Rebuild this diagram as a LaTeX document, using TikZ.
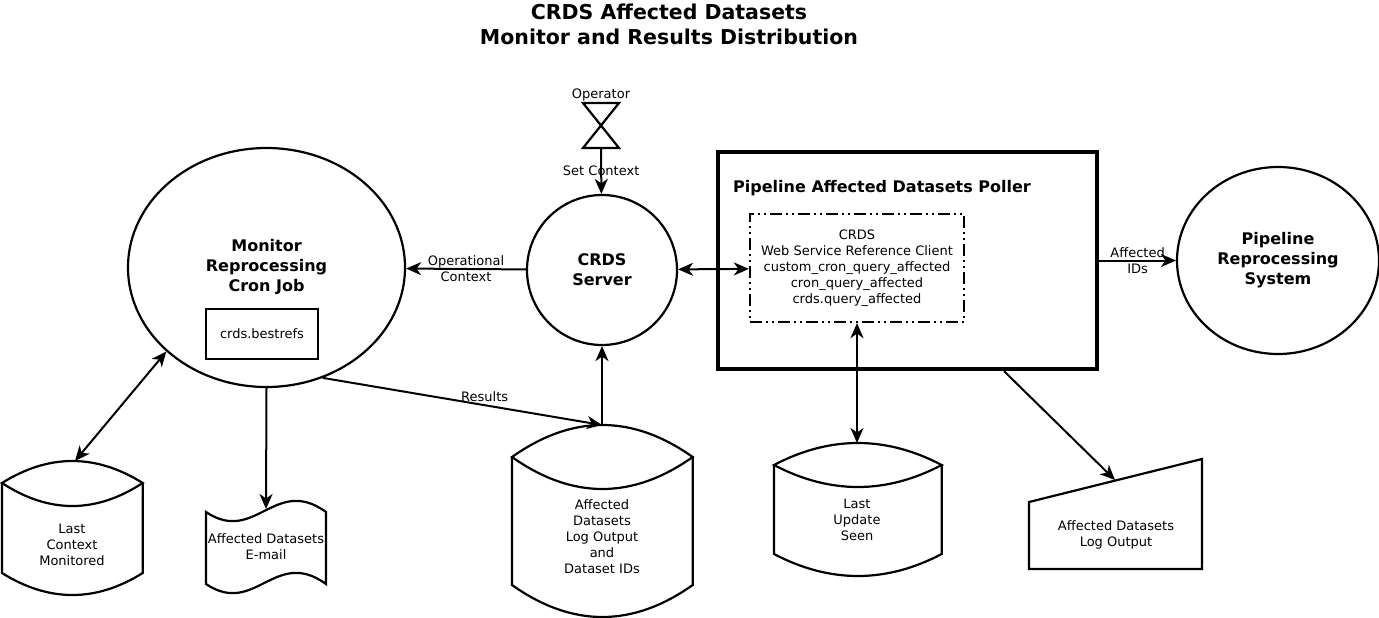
\documentclass[tikz,border=0pt]{standalone}
\usepackage{fontspec}
\setmainfont{DejaVu Sans}
\usetikzlibrary{arrows.meta,shapes.geometric,calc}
\newcommand\drawcyl[7]{%
  \pgfmathsetmacro\cylw{(#2-#1)/3}%
  \pgfmathsetmacro\cyla{#4+(#3-#4)/0.75}%
  \pgfmathsetmacro\cylb{#4+(#5-#4)/0.75}%
  \pgfmathsetmacro\cylc{#6+(#7-#6)/0.75}%
  \draw[shp] (#1,#4) .. controls ({#1+\cylw},\cyla) and ({#2-\cylw},\cyla) .. (#2,#4)
     .. controls ({#2-\cylw},\cylb) and ({#1+\cylw},\cylb) .. (#1,#4) -- cycle;
  \draw[shp] (#1,#4) -- (#1,#6) .. controls ({#1+\cylw},\cylc) and ({#2-\cylw},\cylc) .. (#2,#6) -- (#2,#4);
}
\begin{document}
\begin{tikzpicture}[x=1pt,y=-1pt,
  shp/.style={draw, line width=2.2pt},
  tipst/.tip={Stealth[length=15pt,width=13pt,inset=4.5pt]},
  conn/.style={line width=2pt,-tipst},
  dconn/.style={line width=2pt,tipst-tipst},
  lbl/.style={font=\fontsize{13}{16}\selectfont, align=center, inner sep=0pt},
  bld/.style={font=\fontsize{16}{20}\selectfont\bfseries, align=center, inner sep=0pt}]
\useasboundingbox (0,0) rectangle (1379,618);

% title
\node[font=\fontsize{20.5}{25}\selectfont\bfseries, align=center, inner sep=0pt] (title) at (669,24.5)
  {CRDS Affected Datasets\\Monitor and Results Distribution};

% monitor cron job
\node[ellipse, shp, minimum width=277pt, minimum height=239pt, inner sep=0pt, bld] (mon) at (266.5,267.5)
  {Monitor\\Reprocessing\\Cron Job};
\node[shp, minimum width=112pt, minimum height=50pt, lbl] (best) at (262,334) {crds.bestrefs};

% CRDS server
\node[circle, shp, minimum size=150pt, inner sep=0pt, bld] (srv) at (602,270) {CRDS\\Server};

% operator
\node[lbl] (oplabel) at (601,95) {Operator};
\draw[shp] (583,103) -- (619,103) -- (583,148) -- (619,148) -- cycle;
\coordinate (opbot) at (601,148);

% poller
\node[draw, line width=4.5pt, minimum width=379pt, minimum height=217pt, inner sep=0pt] (poller) at (907.5,260.5) {};
\node[bld, anchor=west] (pollertitle) at (733,188) {Pipeline Affected Datasets Poller};
\node[shp, dash pattern=on 12pt off 4pt on 2pt off 4pt on 2pt off 4pt, minimum width=214pt, minimum height=108pt, inner sep=0pt, lbl] (client) at (857,268)
  {CRDS\\Web Service Reference Client\\custom\_cron\_query\_affected\\cron\_query\_affected\\crds.query\_affected};

% pipeline system
\node[ellipse, shp, minimum width=202pt, minimum height=187pt, inner sep=0pt, bld] (pipe) at (1278,260.5)
  {Pipeline\\Reprocessing\\System};

% cylinders
\drawcyl{2}{142.7}{461}{483}{506}{573}{595}
\node[lbl] (lcm) at (72,545) {Last\\Context\\Monitored};
\coordinate (lcmtop) at (75,461);

\drawcyl{512}{692.7}{425}{457}{489}{585}{617}
\node[lbl] (log) at (602,537) {Affected\\Datasets\\Log Output\\and\\Dataset IDs};
\coordinate (logtop) at (602,425);

\drawcyl{774}{941.7}{443}{465}{487}{554}{576}
\node[lbl] (lus) at (857,520) {Last\\Update\\Seen};
\coordinate (lustop) at (857,443);

% email document
\draw[shp] (206,512) .. controls (255,545) and (275,475) .. (326,512) -- (326,584)
  .. controls (275,547) and (255,617) .. (206,584) -- cycle;
\node[lbl] (mail) at (266,547) {Affected Datasets\\E-mail};
\coordinate (mailtop) at (266,509);

% manual output
\draw[shp] (1029,502) -- (1202,459) -- (1202,569) -- (1029,569) -- cycle;
\node[lbl] (manlog) at (1116,535) {Affected Datasets\\Log Output};
\coordinate (mantop) at (1115,480);

% connectors
\draw[conn] (opbot) -- (srv) node[lbl, midway] {Set Context};
\draw[conn] (srv) -- (mon) node[lbl, midway] {Operational\\Context};
\draw[dconn] (srv) -- (client);
\draw[conn] (poller) -- (pipe) node[lbl, midway] {Affected\\IDs};
\draw[conn] (logtop) -- (srv.south);
\draw[conn] (mon.-63.5) -- (logtop) node[lbl, pos=0.58, above=3pt] {Results};
\draw[conn] (mon.south) -- (mailtop);
\draw[dconn] (lcmtop) -- (mon.220.6);
\draw[dconn] (client.south) -- (lustop);
\draw[conn] ($(poller.south west)!0.752!(poller.south east)$) -- (mantop);
\end{tikzpicture}
\end{document}
